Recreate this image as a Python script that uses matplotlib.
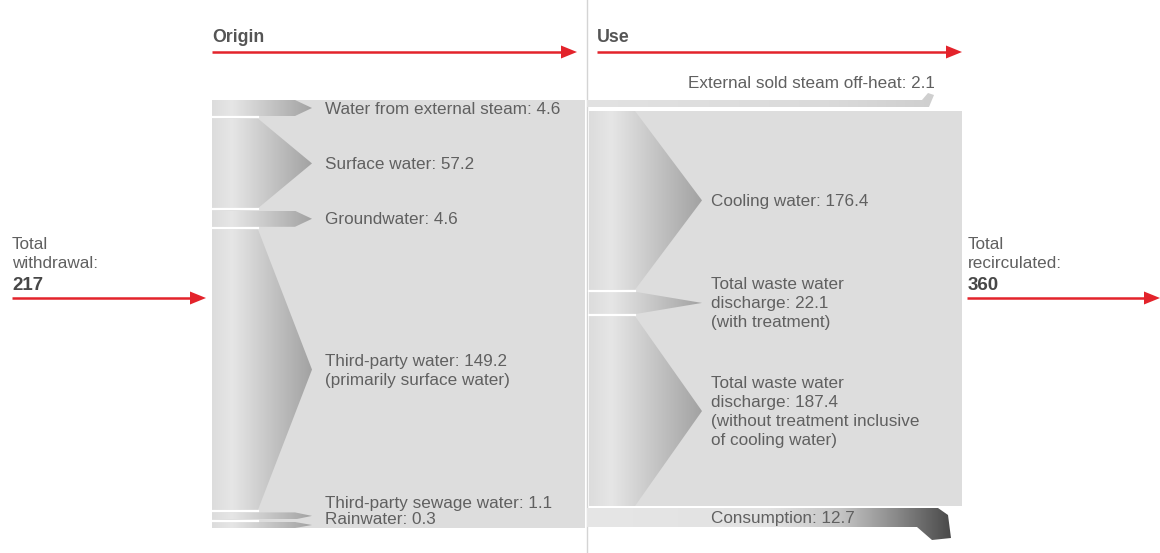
import numpy as np
import matplotlib
matplotlib.use("Agg")
import matplotlib.pyplot as plt
from matplotlib.patches import Polygon, Rectangle
from matplotlib.colors import LinearSegmentedColormap

# ---------------- data ----------------
origin_labels = ["Water from external steam", "Surface water", "Groundwater",
                 "Third-party water", "Third-party sewage water", "Rainwater"]
origin_values = [4.6, 57.2, 4.6, 149.2, 1.1, 0.3]
origin_notes = ["", "", "", "(primarily surface water)", "", ""]

use_labels = ["External sold steam off-heat", "Cooling water",
              "Total waste water\ndischarge", "Total waste water\ndischarge",
              "Consumption"]
use_values = [2.1, 176.4, 22.1, 187.4, 12.7]
use_notes = ["", "", "(with treatment)",
             "(without treatment inclusive\nof cooling water)", ""]

total_withdrawal = 217
total_recirculated = 360
headers = ["Origin", "Use"]

# ---------------- style ----------------
RED = "#e3232b"
TXT = "#606060"
BOLD = "#474747"
BG = "#dddddd"
FONT = "Liberation Sans"
FS = 12.3
LS = 1.33

# minimum drawn heights (pixels) for tiny flows, and display exponent per side
origin_min_h = [16, 0, 16, 0, 7, 6]
use_min_h = [7, 0, 19, 0, 19]
origin_power = 1.19
use_power = 1.0

W, H = 1160, 553
fig = plt.figure(figsize=(W / 100, H / 100), dpi=100)
ax = fig.add_axes([0, 0, 1, 1])
ax.axis("off")


def heights(values, mins, total_h, gaps, power):
    vals = [v ** power for v in values]
    avail = total_h - sum(gaps)
    s = avail / sum(vals)
    for _ in range(50):
        free = [v for v, m in zip(vals, mins) if v * s >= m]
        fixed = sum(m for v, m in zip(vals, mins) if v * s < m)
        s = (avail - fixed) / sum(free)
    return [max(v * s, m) for v, m in zip(vals, mins)]


def grad_fill(verts, x0, x1, colors, z=2):
    poly = Polygon(verts, closed=True, facecolor="none", edgecolor="none")
    ax.add_patch(poly)
    cmap = LinearSegmentedColormap.from_list("g", colors)
    grad = np.linspace(0, 1, 256).reshape(1, -1)
    ys = [v[1] for v in verts]
    im = ax.imshow(grad, extent=[x0, x1, max(ys), min(ys)], aspect="auto",
                   cmap=cmap, zorder=z, interpolation="bilinear")
    im.set_clip_path(poly)


def red_arrow(x0, x1, y):
    ax.plot([x0, x1 - 12], [y, y], color=RED, lw=1.8, solid_capstyle="butt", zorder=5)
    ax.add_patch(Polygon([(x1 - 16, y - 6.5), (x1, y), (x1 - 16, y + 6.5)],
                         closed=True, facecolor=RED, edgecolor="none", zorder=5))


band_colors = [(0, "#dcdcdc"), (0.2, "#e6e6e6"), (1, "#a2a2a2")]

# ---------------- divider ----------------
ax.plot([587, 587], [0, H], color="#d4d4d4", lw=1, zorder=1)

# ---------------- headers ----------------
ax.text(212, 38, headers[0], fontsize=12.8, fontweight="bold", color="#555555",
        family=FONT, va="center", ha="left")
ax.text(597, 38, headers[1], fontsize=12.8, fontweight="bold", color="#555555",
        family=FONT, va="center", ha="left")
red_arrow(212, 577, 52)
red_arrow(597, 962, 52)

# ---------------- origin side ----------------
L_x0, L_x1, L_top, L_bot = 212, 585, 100, 528
L_gap = 2.6
L_xb, L_tip = 258, 312
gaps = [L_gap] * (len(origin_values) - 1)
hs = heights(origin_values, origin_min_h, L_bot - L_top, gaps, origin_power)
ax.add_patch(Rectangle((L_x0, L_top), L_x1 - L_x0, L_bot - L_top,
                       facecolor=BG, edgecolor="none", zorder=1))
y = L_top
mids = []
for i, h in enumerate(hs):
    top, bot = y, y + h
    mid = (top + bot) / 2
    mids.append(mid)
    taper = min(54, max(17, h))
    xb = L_tip - taper
    verts = [(L_x0, top), (xb, top), (L_tip, mid), (xb, bot), (L_x0, bot)]
    grad_fill(verts, L_x0, L_tip, band_colors)
    if i < len(hs) - 1:
        ax.plot([L_x0, L_xb], [bot + L_gap / 2] * 2, color="white", lw=1.6, zorder=4)
    y = bot + L_gap

for i, (lab, v, note) in enumerate(zip(origin_labels, origin_values, origin_notes)):
    if i >= 4:
        continue
    s = f"{lab}: {v}" + (f"\n{note}" if note else "")
    ax.text(325, mids[i] + 1, s, fontsize=FS, color=TXT, family=FONT,
            va="center", ha="left", linespacing=LS, zorder=6)
# two tiny bottom flows share one label block
s = "\n".join(f"{origin_labels[i]}: {origin_values[i]}" for i in (4, 5))
ax.text(325, L_bot - 1, s, fontsize=FS, color=TXT, family=FONT,
        va="bottom", ha="left", linespacing=1.08, zorder=6)

# ---------------- use side ----------------
R_x0, R_x1, R_top, R_bot = 587, 962, 100, 527
R_xb, R_tip = 635, 702
r_gaps = [4, 2, 2, 2]
rh = heights(use_values, use_min_h, R_bot - R_top, r_gaps, use_power)
ys_top = [R_top]
for h, g in zip(rh[:-1], r_gaps):
    ys_top.append(ys_top[-1] + h + g)
bots = [t + h for t, h in zip(ys_top, rh)]
rmids = [(t + b) / 2 for t, b in zip(ys_top, bots)]

# background block for the main uses
ax.add_patch(Rectangle((589, ys_top[1]), R_x1 - 589, bots[3] - ys_top[1],
                       facecolor=BG, edgecolor="none", zorder=1))
for i in (1, 2, 3):
    top, bot, mid = ys_top[i], bots[i], rmids[i]
    verts = [(589, top), (R_xb, top), (R_tip, mid), (R_xb, bot), (589, bot)]
    grad_fill(verts, 589, R_tip, band_colors)
    if i < 3:
        ax.plot([589, R_xb], [bot + 1, bot + 1], color="white", lw=1.6, zorder=4)

# external sold steam (thin band bending upward)
t, b = ys_top[0], bots[0]
verts = [(R_x0, t), (922, t), (928, t - 7), (934, t - 5), (929, b), (R_x0, b)]
grad_fill(verts, R_x0, 934, [(0, "#e2e2e2"), (0.7, "#dadada"), (1, "#cfcfcf")])

# consumption (band bending downward, dark end)
t, b = ys_top[4], bots[4]
verts = [(R_x0, t), (938, t), (948, t + 7), (951, b + 11), (932, b + 13),
         (917, b), (R_x0, b)]
grad_fill(verts, R_x0, 951, [(0, "#e6e6e6"), (0.5, "#e2e2e2"), (0.7, "#c4c4c4"),
                              (0.85, "#8a8a8a"), (1, "#4a4a4a")])

# use labels
ax.text(935, ys_top[0] - 17, f"{use_labels[0]}: {use_values[0]}", fontsize=FS,
        color=TXT, family=FONT, va="center", ha="right", zorder=6)
for i in (1, 2, 3, 4):
    s = f"{use_labels[i]}: {use_values[i]}" + (f"\n{use_notes[i]}" if use_notes[i] else "")
    ax.text(711, rmids[i] + 1, s, fontsize=FS, color=TXT, family=FONT,
            va="center", ha="left", linespacing=LS, zorder=6)

# ---------------- totals ----------------
ax.text(12, 254, "Total\nwithdrawal:", fontsize=FS, color=TXT, family=FONT,
        va="center", ha="left", linespacing=LS)
ax.text(12, 285, f"{total_withdrawal}", fontsize=13.5, color=BOLD, family=FONT,
        fontweight="bold", va="center", ha="left")
red_arrow(12, 206, 298)

ax.text(968, 254, "Total\nrecirculated:", fontsize=FS, color=TXT, family=FONT,
        va="center", ha="left", linespacing=LS)
ax.text(968, 285, f"{total_recirculated}", fontsize=13.5, color=BOLD, family=FONT,
        fontweight="bold", va="center", ha="left")
red_arrow(967, 1160, 298)

ax.set_xlim(0, W)
ax.set_ylim(H, 0)
fig.savefig("out.png", dpi=100)
